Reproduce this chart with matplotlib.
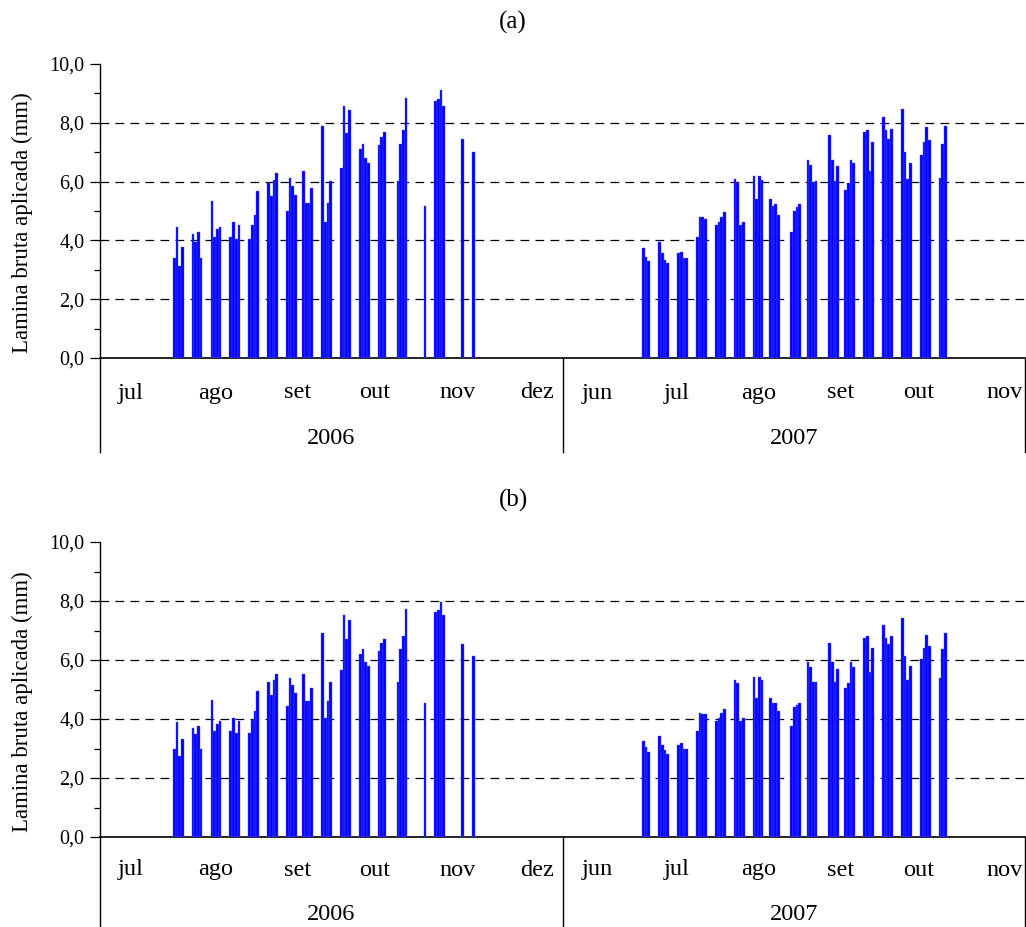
import matplotlib
matplotlib.use("Agg")
import matplotlib.pyplot as plt
from matplotlib.ticker import MultipleLocator, FuncFormatter
from matplotlib.lines import Line2D

plt.rcParams['font.family'] = ['Liberation Serif', 'DejaVu Serif']

# ---------------- data ----------------
# day index along the (continuous) x axis; 2006 section 0..171.5, 2007 section 171.5..343
days_2006 = [27, 28, 29, 30, 34, 35, 36, 37, 41, 42, 43, 44, 48, 49, 50, 51,
             55, 56, 57, 58, 62, 63, 64, 65, 69, 70, 71, 72, 75, 76, 77, 78,
             82, 83, 84, 85, 89, 90, 91, 92, 96, 97, 98, 99, 103, 104, 105,
             110, 111, 112, 113, 120, 124, 125, 126, 127, 134, 138]
days_2007 = [201, 202, 203, 207, 208, 209, 210, 214, 215, 216, 217,
             221, 222, 223, 224, 228, 229, 230, 231, 235, 236, 237, 238,
             242, 243, 244, 245, 248, 249, 250, 251, 256, 257, 258, 259,
             262, 263, 264, 265, 270, 271, 272, 273, 276, 277, 278, 279,
             283, 284, 285, 286, 290, 291, 292, 293, 297, 298, 299, 300,
             304, 305, 306, 307, 311, 312, 313]

lamina_a_2006 = [3.39, 4.45, 3.12, 3.79, 4.23, 3.94, 4.28, 3.39, 5.35, 4.12, 4.40, 4.45,
                 4.12, 4.62, 4.06, 4.51, 4.06, 4.51, 4.85, 5.68, 5.95, 5.52, 6.06, 6.28,
                 5.01, 6.12, 5.84, 5.56, 6.35, 5.28, 5.28, 5.78, 7.90, 4.62, 5.28, 6.02,
                 6.46, 8.57, 7.64, 8.45, 7.12, 7.29, 6.79, 6.62, 7.24, 7.51, 7.69,
                 6.02, 7.29, 7.75, 8.85, 5.18, 8.74, 8.81, 9.12, 8.57, 7.45, 7.02]
lamina_a_2007 = [3.73, 3.45, 3.29, 3.96, 3.56, 3.33, 3.23, 3.56, 3.62, 3.39, 3.39,
                 4.12, 4.79, 4.79, 4.72, 4.51, 4.62, 4.79, 4.95, 6.08, 5.96, 4.51, 4.62,
                 6.18, 5.40, 6.18, 6.06, 5.40, 5.18, 5.23, 4.85, 4.29, 5.01, 5.12, 5.23,
                 6.73, 6.58, 5.98, 6.02, 7.58, 6.73, 6.02, 6.52, 5.73, 5.96, 6.73, 6.62,
                 7.69, 7.75, 6.35, 7.35, 8.19, 7.74, 7.46, 7.79, 8.46, 7.02, 6.08, 6.62,
                 6.91, 7.35, 7.85, 7.41, 6.13, 7.29, 7.90]

lamina_b_2006 = [3.00, 3.89, 2.73, 3.33, 3.71, 3.50, 3.77, 3.00, 4.65, 3.60, 3.83, 3.94,
                 3.60, 4.04, 3.54, 3.94, 3.54, 3.98, 4.27, 4.94, 5.26, 4.82, 5.31, 5.54,
                 4.43, 5.38, 5.15, 4.88, 5.54, 4.60, 4.60, 5.04, 6.93, 4.04, 4.60, 5.26,
                 5.66, 7.53, 6.70, 7.36, 6.20, 6.37, 5.93, 5.81, 6.31, 6.58, 6.70,
                 5.26, 6.37, 6.81, 7.74, 4.55, 7.64, 7.69, 7.98, 7.53, 6.53, 6.14]
lamina_b_2007 = [3.27, 3.05, 2.89, 3.44, 3.11, 2.94, 2.83, 3.11, 3.17, 3.00, 3.00,
                 3.60, 4.22, 4.16, 4.16, 3.94, 4.04, 4.22, 4.33, 5.31, 5.22, 3.94, 4.04,
                 5.43, 4.72, 5.43, 5.31, 4.72, 4.55, 4.55, 4.27, 3.77, 4.39, 4.49, 4.55,
                 5.93, 5.76, 5.26, 5.26, 6.58, 5.93, 5.26, 5.70, 5.04, 5.22, 5.93, 5.76,
                 6.76, 6.81, 5.60, 6.41, 7.20, 6.76, 6.53, 6.81, 7.41, 6.14, 5.31, 5.81,
                 6.04, 6.42, 6.86, 6.47, 5.38, 6.37, 6.93]

months_2006 = ['jul', 'ago', 'set', 'out', 'nov', 'dez']
months_2007 = ['jun', 'jul', 'ago', 'set', 'out', 'nov']
years = ['2006', '2007']
panel_titles = ['(a)', '(b)']
ylabel = 'Lamina bruta aplicada (mm)'

# ---------------- layout ----------------
XMAX = 343.0
SPLIT = 171.5
month_pos_2006 = [11.2, 42.7, 73.1, 102.0, 132.5, 162.1]
month_pos_2007 = [184.3, 213.9, 244.3, 274.7, 303.6, 335.5]

W, H = 1026, 927
fig = plt.figure(figsize=(W / 100, H / 100), dpi=100)

panels = [
    dict(top=64, bottom=358, a06=lamina_a_2006, a07=lamina_a_2007, title_y=22, line_end=452),
    dict(top=542, bottom=837, a06=lamina_b_2006, a07=lamina_b_2007, title_y=500, line_end=927),
]

BAR_FC = '#0000FF'
BAR_EC = '#5a5aff'

for i, p in enumerate(panels):
    left, right = 100, 1025
    ax = fig.add_axes([left / W, 1 - p['bottom'] / H, (right - left) / W, (p['bottom'] - p['top']) / H])
    ax.bar(days_2006, p['a06'], width=1.0, align='edge', color=BAR_FC, edgecolor=BAR_EC, linewidth=0.3, zorder=3)
    ax.bar(days_2007, p['a07'], width=1.0, align='edge', color=BAR_FC, edgecolor=BAR_EC, linewidth=0.3, zorder=3)
    ax.set_xlim(0, XMAX)
    ax.set_ylim(0, 10)
    ax.yaxis.set_major_locator(MultipleLocator(2))
    ax.yaxis.set_minor_locator(MultipleLocator(1))
    ax.yaxis.set_major_formatter(FuncFormatter(lambda v, pos: f"{v:.1f}".replace('.', ',')))
    ax.tick_params(axis='y', which='major', direction='out', length=7, width=0.9, labelsize=14.5, pad=4)
    ax.tick_params(axis='y', which='minor', direction='out', length=4, width=0.9)
    ax.set_xticks([])
    for y in [2, 4, 6, 8]:
        ax.axhline(y, color='black', lw=0.9, ls=(0, (7, 5)), zorder=1)
    for s in ['top', 'right']:
        ax.spines[s].set_visible(False)
    ax.spines['left'].set_linewidth(1.0)
    ax.spines['bottom'].set_linewidth(1.2)
    hpx = p['bottom'] - p['top']
    ax.set_ylabel(ylabel, fontsize=16.5)
    ax.yaxis.set_label_coords(-67 / 925, 0.5 - 12 / hpx)

    tr = ax.get_xaxis_transform()
    month_y = -(35 if i == 0 else 33) / hpx
    year_y = -(80 if i == 0 else 78) / hpx
    line_y = -(p['line_end'] - p['bottom']) / hpx
    for lab, xpos in zip(months_2006, month_pos_2006):
        ax.text(xpos, month_y, lab, transform=tr, ha='center', va='center', fontsize=17.5)
    for lab, xpos in zip(months_2007, month_pos_2007):
        ax.text(xpos, month_y, lab, transform=tr, ha='center', va='center', fontsize=17.5)
    ax.text(SPLIT / 2, year_y, years[0], transform=tr, ha='center', va='center', fontsize=17.5)
    ax.text((SPLIT + XMAX) / 2, year_y, years[1], transform=tr, ha='center', va='center', fontsize=17.5)
    for xv in [0, SPLIT, XMAX]:
        ax.add_line(Line2D([xv, xv], [0, line_y], transform=tr, color='black', lw=1.0, clip_on=False))

    fig.text(513 / W, 1 - p['title_y'] / H, panel_titles[i], ha='center', va='center', fontsize=18)

fig.savefig('out.png', dpi=100)
